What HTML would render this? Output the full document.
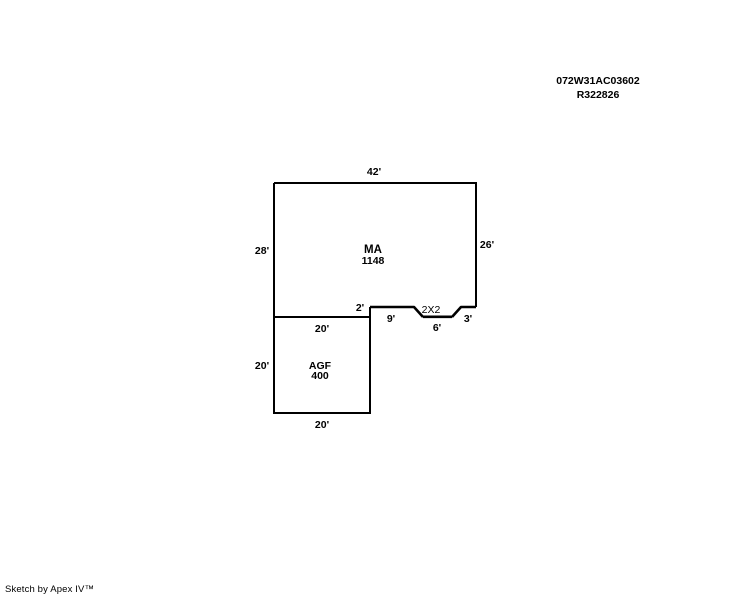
<!DOCTYPE html>
<html>
<head>
<meta charset="utf-8">
<style>
html,body{margin:0;padding:0;background:#fff;width:744px;height:595px;overflow:hidden}
svg{display:block}
text{font-family:"Liberation Sans",sans-serif;font-size:10.5px;font-weight:bold;fill:#000;text-anchor:middle}
</style>
</head>
<body>
<svg width="744" height="595" viewBox="0 0 744 595" xmlns="http://www.w3.org/2000/svg">
<g fill="none" stroke="#000" stroke-width="2" shape-rendering="crispEdges">
<path d="M274 183H476V307"/>
<path d="M370 307V413H274V183"/>
<path d="M274 317H370"/>
</g>
<g fill="none" stroke="#000" stroke-width="2.600" stroke-linejoin="round">
<path d="M370 307H414L423 317"/>
<path d="M423 316.800H452"/>
<path d="M452 317L461 307H476"/>
</g>
<text x="598" y="84">072W31AC03602</text>
<text x="598" y="98">R322826</text>
<text x="374" y="175">42'</text>
<text x="262" y="254">28'</text>
<text x="487" y="248">26'</text>
<text x="373" y="253" style="font-size:11.500px">MA</text>
<text x="373" y="264">1148</text>
<text x="360" y="311">2'</text>
<text x="431" y="313" style="font-weight:normal;-webkit-text-stroke:.35px #000">2X2</text>
<text x="391" y="322">9'</text>
<text x="437" y="331">6'</text>
<text x="468" y="322">3'</text>
<text x="322" y="332">20'</text>
<text x="262" y="369">20'</text>
<text x="320" y="369" style="font-size:10.500px">AGF</text>
<text x="320" y="379">400</text>
<text x="322" y="428">20'</text>
<text x="5" y="592" textLength="89" lengthAdjust="spacing" style="font-size:9.500px;font-weight:normal;text-anchor:start">Sketch by Apex IV™</text>
</svg>
</body>
</html>
